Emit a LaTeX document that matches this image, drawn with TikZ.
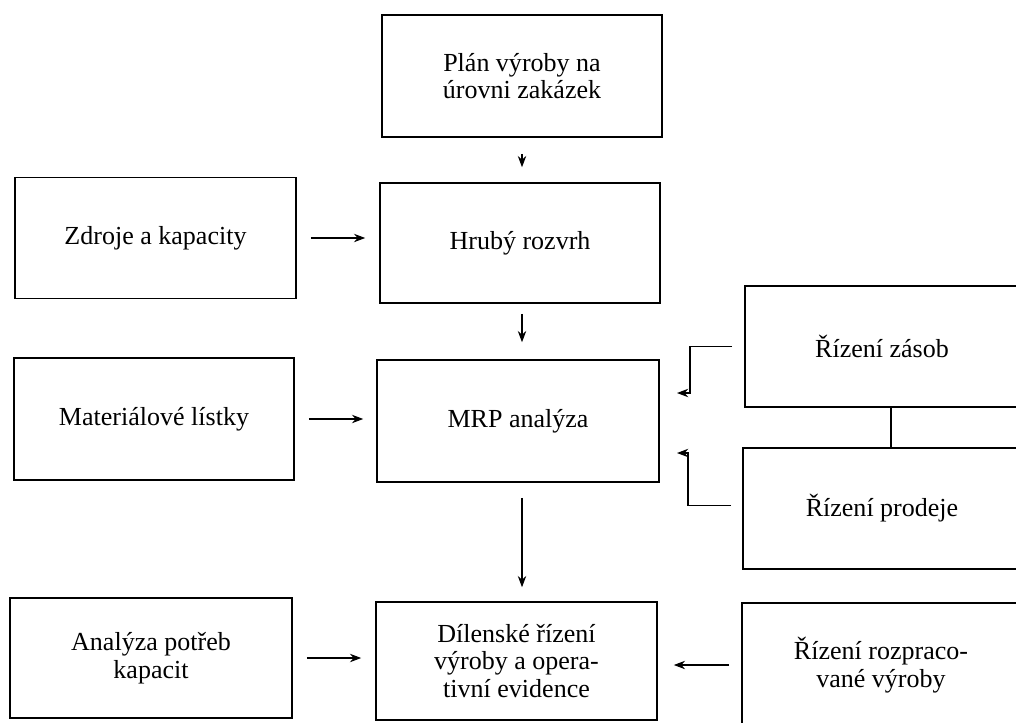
\documentclass[tikz,border=0pt]{standalone}
\usepackage{fontspec}
\setmainfont{Liberation Serif}
\usetikzlibrary{arrows.meta}
\begin{document}
\begin{tikzpicture}[>={Stealth[length=8pt,width=6pt]}, x=0.025cm, y=-0.025cm,
    blok/.style={draw, line width=1.1pt, align=center, inner sep=0pt,
      font=\fontsize{18.5}{19.5}\selectfont},
    sipka/.style={->, line width=0.8pt}]
  \clip (0,0) rectangle (1016,722);
  % middle column
  \node[blok, minimum width=7cm, minimum height=3.05cm] (plan) at (522,76) {Plán výroby na\\úrovni zakázek};
  \node[blok, minimum width=7cm, minimum height=3cm] (hruby) at (520,243) {Hrubý rozvrh};
  \node[blok, minimum width=7.05cm, minimum height=3.05cm] (mrp) at (518,421) {MRP analýza};
  \node[blok, minimum width=7.025cm, minimum height=2.95cm] (dilna) at (516.5,661) {Dílenské řízení\\výroby a opera-\\tivní evidence};
  % left column
  \node[blok, minimum width=7.025cm, minimum height=3.025cm] (zdroje) at (155.5,238) {Zdroje a kapacity};
  \node[blok, minimum width=7cm, minimum height=3.05cm] (material) at (154,419) {Materiálové lístky};
  \node[blok, minimum width=7.05cm, minimum height=3cm] (analyza) at (151,658) {Analýza potřeb\\kapacit};
  % right column
  \node[blok, minimum width=6.85cm, minimum height=3.025cm] (zasob) at (882,346.5) {Řízení zásob};
  \node[blok, minimum width=6.95cm, minimum height=3.025cm] (prodej) at (882,508.5) {Řízení prodeje};
  \node[blok, minimum width=6.95cm, minimum height=3.1cm] (rozprac) at (881,665) {Řízení rozpraco-\\vané výroby};
  \coordinate (zin) at (677,393);
  \coordinate (pin) at (677,453);

  \draw[sipka, shorten <=0.4cm, shorten >=0.375cm] (plan.south) -- (plan.south |- hruby.north);
  \draw[sipka, shorten <=0.25cm, shorten >=0.425cm] ([xshift=0.05cm]hruby.south) -- ([xshift=0.05cm]hruby.south |- mrp.north);
  \draw[sipka, shorten <=0.375cm, shorten >=0.35cm] ([xshift=0.1cm]mrp.south) -- ([xshift=0.1cm]mrp.south |- dilna.north);
  \draw[sipka, shorten <=0.35cm, shorten >=0.35cm] (zdroje.east) -- (zdroje.east -| hruby.west);
  \draw[sipka, shorten <=0.35cm, shorten >=0.325cm] (material.east) -- (material.east -| mrp.west);
  \draw[sipka, shorten <=0.35cm, shorten >=0.35cm] (analyza.east) -- (analyza.east -| dilna.west);
  \draw[sipka, shorten <=0.3cm, shorten >=0.4cm] (rozprac.west) -- (rozprac.west -| dilna.east);
  \draw[sipka] (zasob.west) ++(-12,0) -| (690,393) -- (zin);
  \draw[sipka] (prodej.west) ++(-11,-3) -| (688,453) -- (pin);
  \draw[line width=1.1pt] ([xshift=0.225cm]zasob.south) -- ([xshift=0.225cm]prodej.north);
\end{tikzpicture}
\end{document}
